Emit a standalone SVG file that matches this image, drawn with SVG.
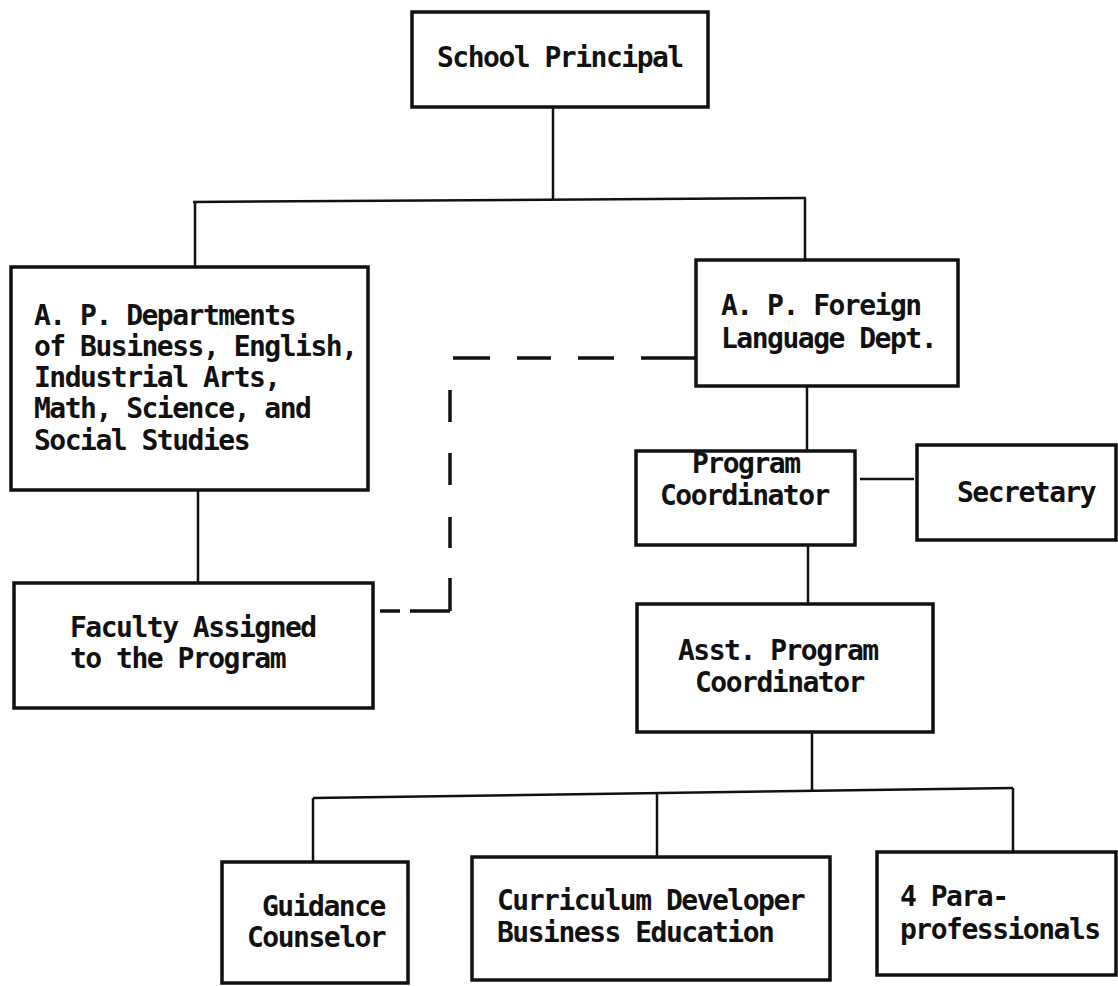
<svg xmlns="http://www.w3.org/2000/svg" width="1118" height="986" viewBox="0 0 1118 986">
<style>
.box{fill:none;stroke:#111;stroke-width:3.5}
.t{font-family:"DejaVu Sans Mono","Liberation Mono",monospace;font-size:28px;letter-spacing:-1.5px;font-weight:bold;fill:#111}
.c{stroke:#111;stroke-width:2.5;fill:none}
.d{stroke:#111;stroke-width:3.5;fill:none}
</style>
<rect width="1118" height="986" fill="#fff"/>
<g id="connectors">
<line class="c" x1="553" y1="107" x2="553" y2="200"/>
<line class="c" x1="193" y1="202" x2="806" y2="198"/>
<line class="c" x1="195" y1="202" x2="195" y2="267"/>
<line class="c" x1="805" y1="198" x2="805" y2="260"/>
<line class="c" x1="198" y1="490" x2="198" y2="583"/>
<line class="c" x1="807" y1="386" x2="807" y2="450"/>
<line class="c" x1="860" y1="479" x2="914" y2="479"/>
<line class="c" x1="808" y1="545" x2="808" y2="604"/>
<line class="c" x1="812" y1="732" x2="812" y2="790"/>
<line class="c" x1="313" y1="798" x2="1013" y2="788"/>
<line class="c" x1="313" y1="798" x2="313" y2="861"/>
<line class="c" x1="657" y1="794" x2="657" y2="856"/>
<line class="c" x1="1013" y1="788" x2="1013" y2="851"/>
<g id="dashed">
<line class="d" x1="380" y1="611" x2="400" y2="611"/>
<line class="d" x1="410" y1="611" x2="450" y2="611"/>
<line class="d" x1="450" y1="578" x2="450" y2="611"/>
<line class="d" x1="450" y1="517" x2="450" y2="548"/>
<line class="d" x1="450" y1="453" x2="450" y2="485"/>
<line class="d" x1="450" y1="390" x2="450" y2="422"/>
<line class="d" x1="453" y1="358" x2="490" y2="358"/>
<line class="d" x1="517" y1="358" x2="551" y2="358"/>
<line class="d" x1="578" y1="358" x2="614" y2="358"/>
<line class="d" x1="641" y1="358" x2="696" y2="358"/>
</g>
</g>
<g id="principal">
<rect class="box" x="412" y="12" width="296" height="95"/>
<text class="t" x="437" y="67">School Principal</text>
</g>
<g id="ap-departments">
<rect class="box" x="11" y="267" width="357" height="223"/>
<text class="t" x="34" y="325">A. P. Departments</text>
<text class="t" x="34" y="356">of Business, English,</text>
<text class="t" x="34" y="387">Industrial Arts,</text>
<text class="t" x="34" y="418">Math, Science, and</text>
<text class="t" x="34" y="450">Social Studies</text>
</g>
<g id="faculty">
<rect class="box" x="14" y="583" width="359" height="125"/>
<text class="t" x="70" y="637">Faculty Assigned</text>
<text class="t" x="70" y="668">to the Program</text>
</g>
<g id="ap-foreign">
<rect class="box" x="696" y="260" width="262" height="126"/>
<text class="t" x="721" y="315">A. P. Foreign</text>
<text class="t" x="721" y="348">Language Dept.</text>
</g>
<g id="program-coordinator">
<rect class="box" x="636" y="451" width="219" height="94"/>
<text class="t" x="692" y="473">Program</text>
<text class="t" x="660" y="505">Coordinator</text>
</g>
<g id="secretary">
<rect class="box" x="917" y="445" width="199" height="95"/>
<text class="t" x="957" y="502">Secretary</text>
</g>
<g id="asst-coordinator">
<rect class="box" x="637" y="604" width="296" height="128"/>
<text class="t" x="678" y="660">Asst. Program</text>
<text class="t" x="695" y="692">Coordinator</text>
</g>
<g id="guidance">
<rect class="box" x="222" y="862" width="186" height="121"/>
<text class="t" x="262" y="916">Guidance</text>
<text class="t" x="247" y="947">Counselor</text>
</g>
<g id="curriculum">
<rect class="box" x="472" y="857" width="358" height="123"/>
<text class="t" x="497" y="910">Curriculum Developer</text>
<text class="t" x="497" y="942">Business Education</text>
</g>
<g id="paraprofessionals">
<rect class="box" x="877" y="852" width="239" height="123"/>
<text class="t" x="900" y="906">4 Para-</text>
<text class="t" x="900" y="939">professionals</text>
</g>
</svg>
